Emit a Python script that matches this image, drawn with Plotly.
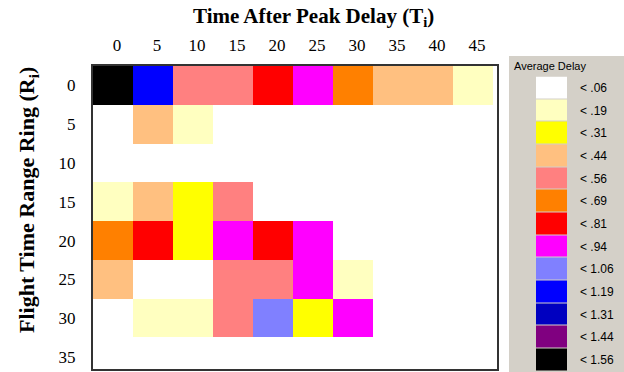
import numpy as np
import plotly.graph_objects as go

# Time after peak delay (columns) and flight time range rings (rows)
time_after_peak = [0, 5, 10, 15, 20, 25, 30, 35, 40, 45]
range_rings = [0, 5, 10, 15, 20, 25, 30, 35]

# Average delay per cell, one list per range ring
ring_0 = [1.50, 1.12, 0.50, 0.50, 0.75, 0.88, 0.62, 0.38, 0.38, 0.12]
ring_5 = [0.00, 0.38, 0.12, 0.00, 0.00, 0.00, 0.00, 0.00, 0.00, 0.00]
ring_10 = [0.00, 0.00, 0.00, 0.00, 0.00, 0.00, 0.00, 0.00, 0.00, 0.00]
ring_15 = [0.12, 0.38, 0.25, 0.50, 0.00, 0.00, 0.00, 0.00, 0.00, 0.00]
ring_20 = [0.62, 0.75, 0.25, 0.88, 0.75, 0.88, 0.00, 0.00, 0.00, 0.00]
ring_25 = [0.38, 0.00, 0.00, 0.50, 0.50, 0.88, 0.12, 0.00, 0.00, 0.00]
ring_30 = [0.00, 0.12, 0.12, 0.50, 1.00, 0.25, 0.88, 0.00, 0.00, 0.00]
ring_35 = [0.00, 0.00, 0.00, 0.00, 0.00, 0.00, 0.00, 0.00, 0.00, 0.00]

# Legend classes: upper bounds and colours
class_bounds = [0.06, 0.19, 0.31, 0.44, 0.56, 0.69, 0.81, 0.94, 1.06, 1.19, 1.31, 1.44, 1.56]
class_labels = ["< .06", "< .19", "< .31", "< .44", "< .56", "< .69", "< .81",
                "< .94", "< 1.06", "< 1.19", "< 1.31", "< 1.44", "< 1.56"]
class_colors = ["#FFFFFF", "#FFFFC0", "#FFFF00", "#FFC080", "#FF8080", "#FF8000",
                "#FF0000", "#FF00FF", "#8080FF", "#0000FF", "#0000C0", "#800080", "#000000"]

delay = np.array([ring_0, ring_5, ring_10, ring_15, ring_20, ring_25, ring_30, ring_35])
delay_class = np.digitize(delay, class_bounds, right=False)

n = len(class_colors)
colorscale = []
for i, c in enumerate(class_colors):
    colorscale.append([i / n, c])
    colorscale.append([(i + 1) / n, c])

W, H = 624, 372
L, T = 93, 66
pw, ph = W - L, H - T


def px(x):
    return (x - L) / pw


def py(y):
    return (H - y) / ph


fig = go.Figure()

fig.add_trace(go.Heatmap(
    z=delay_class,
    x=list(range(len(time_after_peak))),
    y=list(range(len(range_rings))),
    customdata=delay,
    colorscale=colorscale, zmin=-0.5, zmax=n - 0.5,
    showscale=False,
    hovertemplate="T=%{x}<br>R=%{y}<br>delay=%{customdata}<extra></extra>",
))

# Legend swatches drawn as a one-column heatmap
fig.add_trace(go.Heatmap(
    z=[[i] for i in range(n)],
    x=[0],
    y=list(range(n)),
    colorscale=colorscale, zmin=-0.5, zmax=n - 0.5,
    showscale=False, ygap=1,
    xaxis="x2", yaxis="y2", hoverinfo="skip",
))

tick_font = dict(family="Liberation Serif", size=17, color="#000")
frame = dict(showline=True, linewidth=2, linecolor="#333", mirror=True,
             showgrid=False, zeroline=False, ticks="")

fig.update_layout(
    width=W, height=H,
    margin=dict(l=L, r=0, t=T, b=0),
    paper_bgcolor="white", plot_bgcolor="white",
    xaxis=dict(domain=[0, px(497)], range=[-0.5, 9.6], side="top",
               tickmode="array", tickvals=[i + 0.1 for i in range(len(time_after_peak))],
               ticktext=[str(v) for v in time_after_peak],
               tickfont=tick_font, ticklabelstandoff=6, **frame),
    yaxis=dict(domain=[py(369), 1], range=[7.31, -0.5],
               tickmode="array", tickvals=list(range(len(range_rings))),
               ticktext=[str(v) for v in range_rings],
               tickfont=tick_font, ticklabelstandoff=12, **frame),
    xaxis2=dict(domain=[px(536), px(567)], range=[-0.5, 0.5], anchor="y2",
                showticklabels=False, showgrid=False, zeroline=False, showline=False),
    yaxis2=dict(domain=[py(371), py(76.5)], range=[n - 0.5, -0.5], anchor="x2",
                side="right", tickmode="array", tickvals=list(range(n)),
                ticktext=class_labels, ticks="", ticklabelstandoff=12,
                tickfont=dict(family="Liberation Sans", size=12, color="#000"),
                showgrid=False, zeroline=False, showline=False),
    shapes=[dict(type="rect", xref="paper", yref="paper",
                 x0=px(509), x1=px(626), y0=py(374), y1=py(56),
                 fillcolor="#D4D0C8", line=dict(width=0), layer="below")],
    annotations=[
        dict(text="Time After Peak Delay (T<sub>i</sub>)", xref="paper", yref="paper",
             x=px(313), y=py(17), showarrow=False, xanchor="center", yanchor="middle",
             font=dict(family="Liberation Serif", size=21, color="#000", weight="bold")),
        dict(text="Flight Time Range Ring (R<sub>i</sub>)", xref="paper", yref="paper",
             x=px(28), y=py(200), showarrow=False, textangle=-90,
             xanchor="center", yanchor="middle",
             font=dict(family="Liberation Serif", size=22, color="#000", weight="bold")),
        dict(text="Average Delay", xref="paper", yref="paper",
             x=px(512), y=py(66), showarrow=False, xanchor="left", yanchor="middle",
             font=dict(family="Liberation Sans", size=11, color="#000")),
    ],
)

fig.write_html("out.html")
